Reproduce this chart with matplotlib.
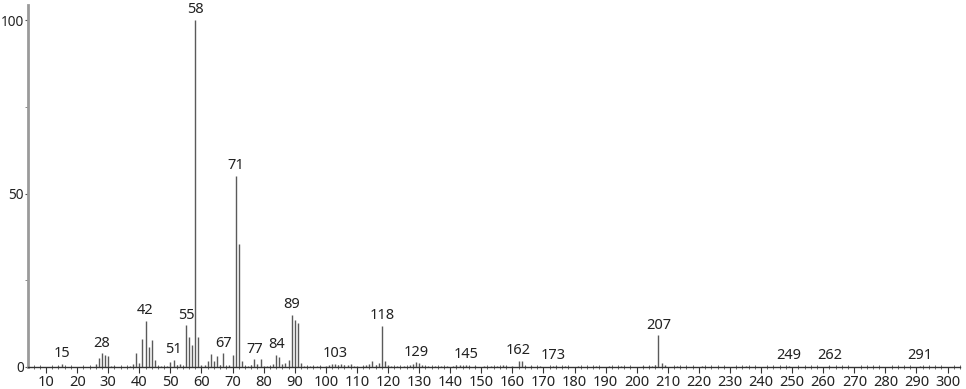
import matplotlib
matplotlib.use('Agg')
from matplotlib import pyplot as plt
from matplotlib.ticker import MultipleLocator
import numpy as np

# peak list (m/z, relative abundance)
mz = [14, 15, 26, 27, 28, 29, 30, 31, 32, 37, 38, 39, 40, 41, 42, 43, 44, 45, 46, 47,
      49, 50, 51, 52, 53, 54, 55, 56, 57, 58, 59, 60, 61, 62, 63, 64, 65, 66, 67, 68,
      69, 70, 71, 72, 73, 74, 75, 76, 77, 78, 79, 80, 81, 82, 83, 84, 85, 86, 87, 88,
      89, 90, 91, 92, 93, 94, 95, 96, 97, 98, 100, 101, 102, 103, 104, 105, 106, 107, 108, 109,
      110, 112, 113, 114, 115, 116, 117, 118, 119, 120, 121, 123, 125, 127, 128, 129, 130, 131, 132, 133,
      135, 137, 139, 141, 142, 143, 144, 145, 146, 148, 151, 153, 155, 157, 158, 160, 162, 163, 164, 166,
      169, 173, 174, 177, 181, 187, 191, 195, 202, 204, 205, 206, 207, 208, 209, 213, 221, 235, 249, 262, 291]
inten = [0.4, 0.8, 0.9, 2.7, 3.9, 3.4, 3.2, 0.4, 0.3, 0.4, 0.8, 4.0, 1.1, 8.0, 13.4, 5.7, 7.8, 2.0, 0.4, 0.3,
         0.4, 1.3, 2.0, 0.5, 1.0, 0.4, 12.0, 8.5, 6.4, 100.0, 8.7, 0.5, 0.6, 1.6, 3.8, 1.8, 3.1, 0.5, 3.9, 0.4,
         0.5, 3.4, 55.0, 35.4, 1.7, 0.4, 0.4, 0.6, 2.2, 1.0, 2.2, 0.4, 0.4, 0.3, 0.9, 3.4, 2.9, 0.9, 1.1, 2.0,
         15.1, 13.6, 12.8, 1.1, 0.4, 0.3, 0.3, 0.4, 0.3, 0.3, 0.3, 0.5, 0.8, 1.0, 0.6, 1.0, 0.7, 0.5, 0.8, 0.3,
         0.3, 0.3, 0.5, 0.8, 1.8, 0.6, 1.1, 11.9, 1.6, 0.5, 0.3, 0.3, 0.3, 0.5, 1.0, 1.3, 1.2, 0.6, 0.4, 0.3,
         0.3, 0.3, 0.3, 0.4, 0.5, 0.6, 0.3, 0.5, 0.3, 0.3, 0.3, 0.3, 0.3, 0.6, 0.4, 0.3, 1.8, 1.7, 0.4, 0.3,
         0.3, 0.3, 0.3, 0.3, 0.3, 0.3, 0.3, 0.3, 0.3, 0.4, 0.4, 0.5, 9.1, 1.2, 0.5, 0.3, 0.3, 0.3, 0.3, 0.4, 0.3]

labelled = [15, 28, 42, 51, 55, 58, 67, 71, 77, 84, 89, 103, 118, 129, 145, 162, 173, 207, 249, 262, 291]

plt.rcParams['font.family'] = ['Noto Sans', 'DejaVu Sans']

fig = plt.figure(figsize=(9.66, 3.89), dpi=100)
ax = fig.add_axes([0.029, 0.0566, 0.9648, 0.9300])

ax.vlines(mz, 0, inten, colors='#5a5a5a', linewidth=1.0)

lookup = dict(zip(mz, inten))
for m in labelled:
	ax.annotate(str(m), (m, lookup[m]), xytext=(0, 2), textcoords='offset points',
	            ha='center', va='bottom', fontsize=10.5, color='#222222')

ax.set_xlim(4.2, 304)
ax.set_ylim(0, 104.3)

ax.xaxis.set_minor_locator(MultipleLocator(2))
ax.set_xticks(np.arange(10, 301, 10))
ax.yaxis.set_major_locator(MultipleLocator(50))
ax.yaxis.set_minor_locator(MultipleLocator(25))

ax.spines['top'].set_visible(False)
ax.spines['right'].set_visible(False)
ax.spines['left'].set_color('#9a9a9a')
ax.spines['left'].set_linewidth(2)
ax.spines['bottom'].set_color('#333333')
ax.spines['bottom'].set_linewidth(1)

ax.tick_params(axis='x', which='major', direction='out', length=4, width=0.8,
               color='#333333', labelsize=10.5, pad=2, labelcolor='#222222')
ax.tick_params(axis='x', which='minor', direction='inout', length=3, width=0.6, color='#555555')
ax.tick_params(axis='y', which='major', direction='out', length=2.5, width=0.8,
               color='#555555', labelsize=9.8, pad=0.5, labelcolor='#222222')
ax.tick_params(axis='y', which='minor', direction='out', length=2.5, width=0.6, color='#777777')

fig.savefig('out.png', dpi=100)
